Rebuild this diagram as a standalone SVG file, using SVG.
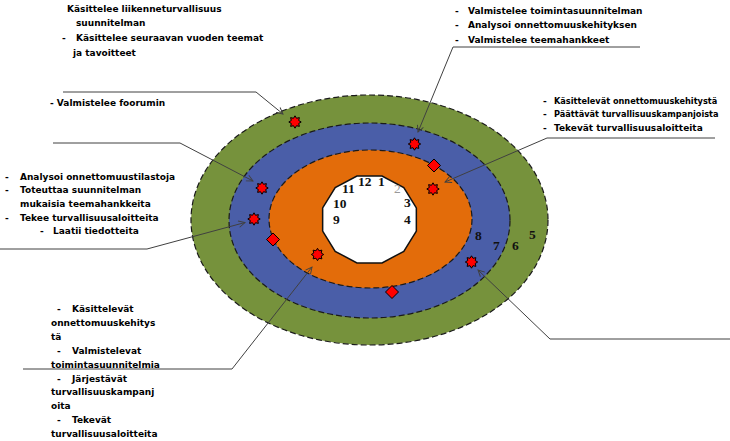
<svg xmlns="http://www.w3.org/2000/svg" width="730" height="441" viewBox="0 0 730 441">
<style>
.t{font-family:"DejaVu Sans","Liberation Sans",sans-serif;font-size:9px;font-weight:bold;fill:#000}
.s{font-size:8.2px}
.n{font-family:"Liberation Serif","DejaVu Serif",serif;font-size:13.5px;font-weight:bold;fill:#111}
.ring{stroke:#1a1a1a;stroke-width:1.2;stroke-dasharray:6 3}
.con{fill:none;stroke:#404040;stroke-width:1}
.mk{fill:#ff0000;stroke:#000;stroke-width:1}
</style>
<defs>
<marker id="ah" viewBox="0 0 10 10" refX="9" refY="5" markerWidth="8" markerHeight="8" markerUnits="userSpaceOnUse" orient="auto">
<path d="M1,1 L9,5 L1,9" fill="none" stroke="#404040" stroke-width="1.2"/>
</marker>
<polygon id="star" class="mk" points="0,-6.2 1.53,-3.70 4.38,-4.38 3.70,-1.53 6.2,0 3.70,1.53 4.38,4.38 1.53,3.70 0,6.2 -1.53,3.70 -4.38,4.38 -3.70,1.53 -6.2,0 -3.70,-1.53 -4.38,-4.38 -1.53,-3.70"/>
<polygon id="dia" class="mk" points="0,-6.5 6.5,0 0,6.5 -6.5,0"/>
</defs>
<rect width="730" height="441" fill="#fff"/>
<g id="ring-green"><ellipse class="ring" cx="369.5" cy="220" rx="178.5" ry="125" fill="#76923c"/></g>
<g id="ring-blue"><ellipse class="ring" cx="369.5" cy="220.5" rx="140.5" ry="97.5" fill="#4a5ea8"/></g>
<g id="ring-orange"><ellipse class="ring" cx="370.5" cy="219" rx="101.5" ry="69" fill="#e36c0a"/></g>
<g id="center"><polygon points="416.35,231.15 403.79,251.32 382.05,262.97 356.95,262.97 335.21,251.32 322.65,231.15 322.65,207.85 335.21,187.68 356.95,176.03 382.05,176.03 403.79,187.68 416.35,207.85" fill="#fff" stroke="#111" stroke-width="1.5"/></g>
<g id="numbers">
<text class="n" x="358" y="186">12</text>
<text class="n" x="378" y="186">1</text>
<text class="n" x="394" y="193" style="fill:#999;font-weight:normal">2</text>
<text class="n" x="342" y="193">11</text>
<text class="n" x="333" y="208">10</text>
<text class="n" x="333" y="224">9</text>
<text class="n" x="404" y="207">3</text>
<text class="n" x="404" y="224">4</text>
<text class="n" x="475" y="240">8</text>
<text class="n" x="493" y="250">7</text>
<text class="n" x="512" y="250">6</text>
<text class="n" x="529" y="239">5</text>
</g>
<g id="markers">
<use href="#star" x="295" y="122"/>
<use href="#star" x="414.5" y="144"/>
<use href="#dia" x="434" y="165.5"/>
<use href="#star" x="433" y="189"/>
<use href="#star" x="262" y="188"/>
<use href="#star" x="254" y="219"/>
<use href="#dia" x="273" y="239.5"/>
<use href="#star" x="317.5" y="254.5"/>
<use href="#star" x="471.5" y="262"/>
<use href="#dia" x="392" y="292"/>
</g>
<g id="connectors">
<polyline class="con" points="63,92 256,92 283,114" marker-end="url(#ah)"/>
<polyline class="con" points="53,143 180,143 253,181" marker-end="url(#ah)"/>
<polyline class="con" points="0,249 147,249 245,222.5" marker-end="url(#ah)"/>
<polyline class="con" points="23,369 232,369 312,267" marker-end="url(#ah)"/>
<polyline class="con" points="640,47 453,47 418,132" marker-end="url(#ah)"/>
<polyline class="con" points="715,138 547,138 445,182" marker-end="url(#ah)"/>
<polyline class="con" points="730,339 550,339 478,270" marker-end="url(#ah)"/>
</g>
<g id="note-top-left">
<text class="t" x="67" y="11.5">Käsittelee liikenneturvallisuus</text>
<text class="t" x="76" y="26">suunnitelman</text>
<text class="t" x="62" y="40.5">-</text>
<text class="t" x="76" y="40.5">Käsittelee seuraavan vuoden teemat</text>
<text class="t" x="73" y="55.5">ja tavoitteet</text>
</g>
<g id="note-foorumi">
<text class="t" x="50" y="105.5">- Valmistelee foorumin</text>
</g>
<g id="note-top-middle">
<text class="t" x="455" y="13.5">-</text><text class="t" x="468" y="13.5">Valmistelee toimintasuunnitelman</text>
<text class="t" x="455" y="28">-</text><text class="t" x="468" y="28">Analysoi onnettomuuskehityksen</text>
<text class="t" x="455" y="42.5">-</text><text class="t" x="468" y="42.5">Valmistelee teemahankkeet</text>
</g>
<g id="note-top-right">
<text class="t" x="543" y="103.5">-</text><text class="t s" x="554" y="103.5">Käsittelevät onnettomuuskehitystä</text>
<text class="t" x="543" y="117">-</text><text class="t s" x="554" y="117">Päättävät turvallisuuskampanjoista</text>
<text class="t" x="543" y="130.5">-</text><text class="t" x="554" y="130.5">Tekevät turvallisuusaloitteita</text>
</g>
<g id="note-left">
<text class="t" x="5" y="179.5">-</text><text class="t" x="20" y="179.5">Analysoi onnettomuustilastoja</text>
<text class="t" x="5" y="193">-</text><text class="t" x="20" y="193">Toteuttaa suunnitelman</text>
<text class="t" x="20" y="206.5">mukaisia teemahankkeita</text>
<text class="t" x="5" y="220.5">-</text><text class="t" x="20" y="220.5">Tekee turvallisuusaloitteita</text>
<text class="t" x="40" y="234">-</text><text class="t" x="53" y="234">Laatii tiedotteita</text>
</g>
<g id="note-bottom-left">
<text class="t" x="57" y="311.5">-</text><text class="t" x="72" y="311.5">Käsittelevät</text>
<text class="t" x="51" y="325.5">onnettomuuskehitys</text>
<text class="t" x="51" y="339.5">tä</text>
<text class="t" x="57" y="353.5">-</text><text class="t" x="72" y="353.5">Valmistelevat</text>
<text class="t" x="51" y="367.5">toimintasuunnitelmia</text>
<text class="t" x="57" y="381.5">-</text><text class="t" x="72" y="381.5">Järjestävät</text>
<text class="t" x="51" y="395">turvallisuuskampanj</text>
<text class="t" x="51" y="408.5">oita</text>
<text class="t" x="57" y="422.5">-</text><text class="t" x="72" y="422.5">Tekevät</text>
<text class="t" x="51" y="436.5">turvallisuusaloitteita</text>
</g>
</svg>
